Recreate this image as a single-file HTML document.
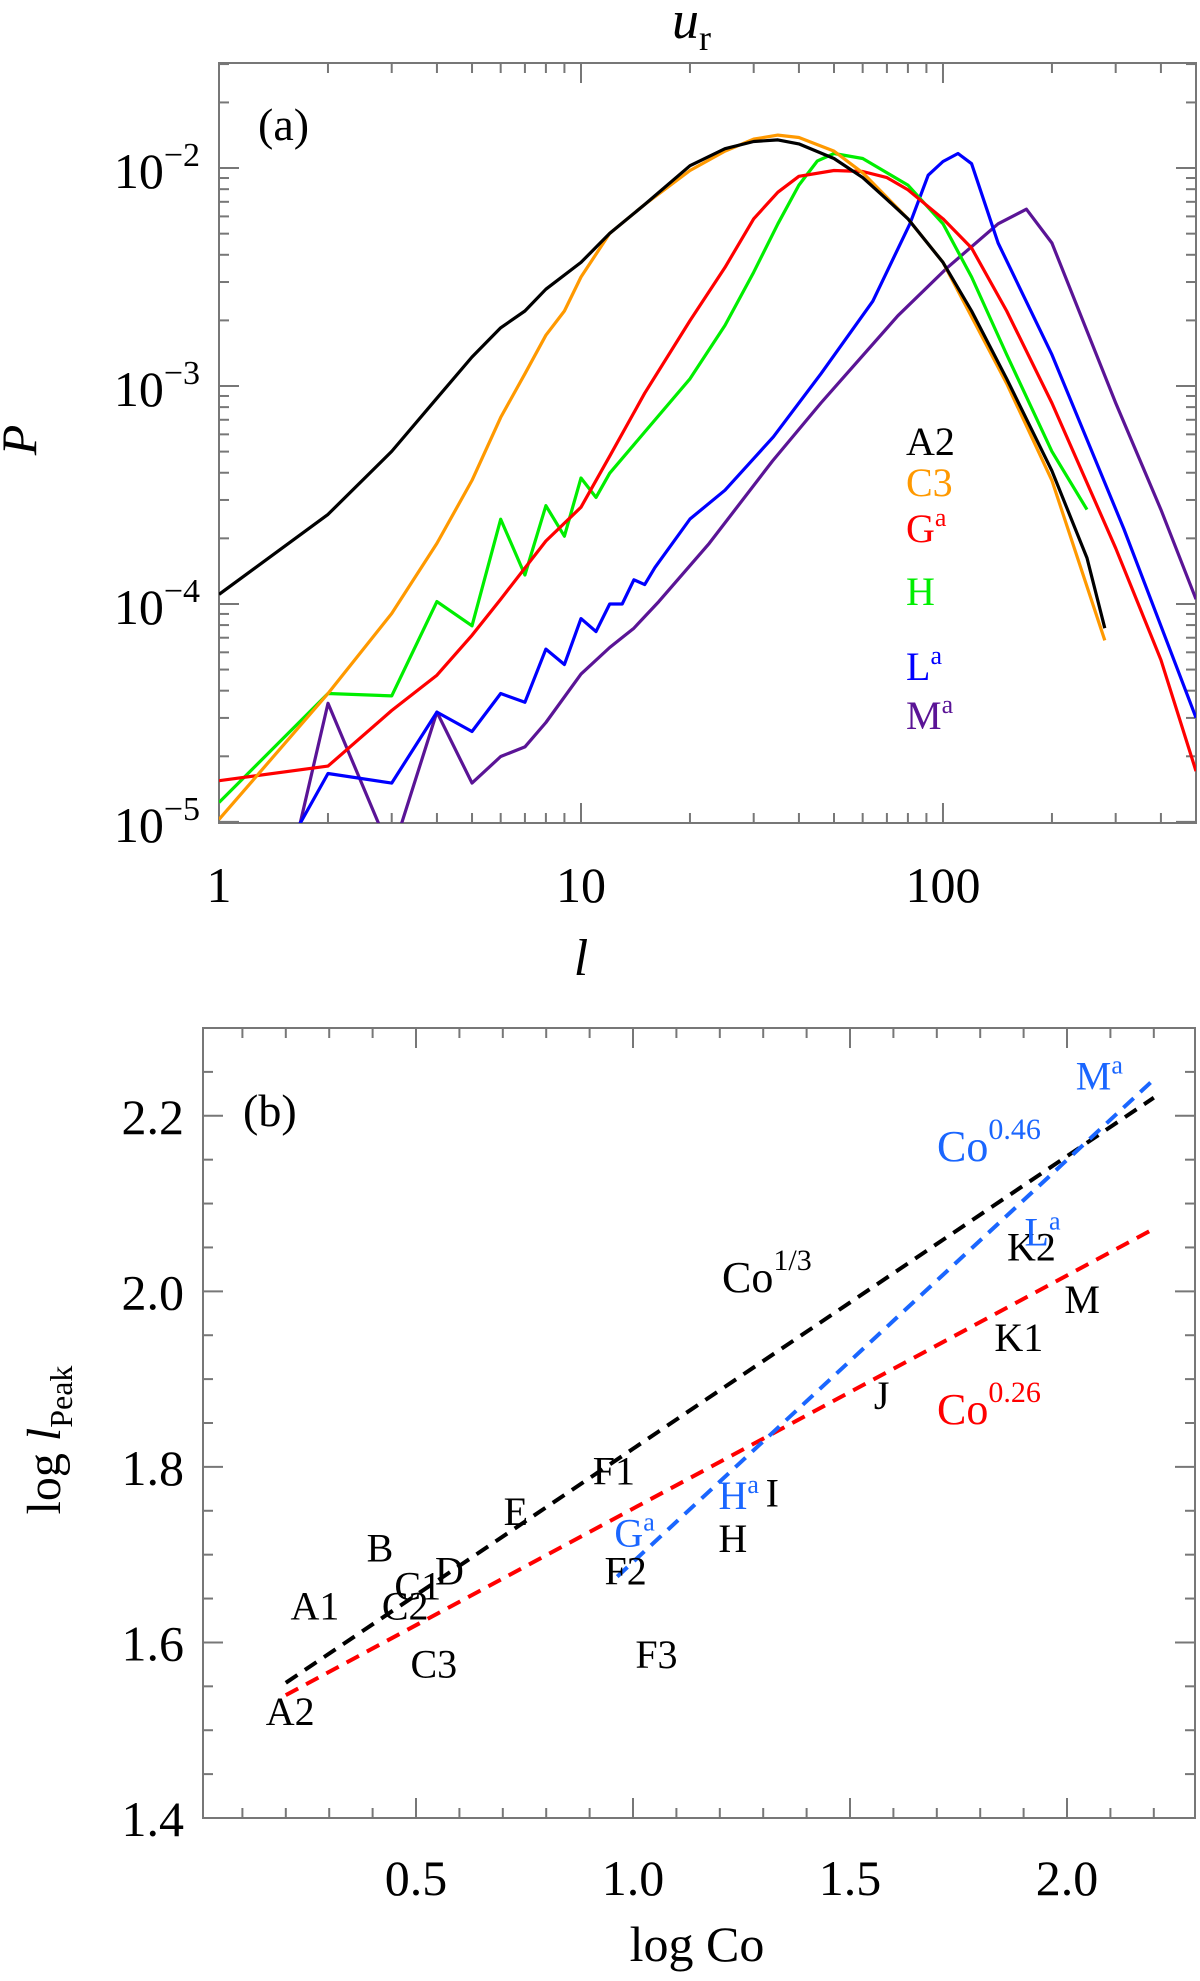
<!DOCTYPE html>
<html><head><meta charset="utf-8">
<style>
html,body{margin:0;padding:0;background:#fff;}
svg{display:block;font-family:"Liberation Serif","DejaVu Serif",serif;}
</style></head>
<body>
<svg id="fig" width="1200" height="1981" viewBox="0 0 1200 1981" xmlns="http://www.w3.org/2000/svg">
<defs>
<clipPath id="clipA"><rect x="219" y="63" width="977" height="760"/></clipPath>
<clipPath id="clipB"><rect x="203" y="1028" width="992" height="790"/></clipPath>
</defs>
<g id="panelA"></g>
<g id="panelB"></g>
</svg>
<script>
// ---------- Panel (a) data: log10 P vs multipole l ----------
const seriesNames = ["A2","C3","Ga","H","La","Ma"];
const seriesColors = ["#000000","#ff9900","#ff0000","#00ee00","#0000ff","#5a1496"];
const lA2 = [1,2,3,4,5,6,7,8,10,12,15,20,25,30,35,40,50,60,70,80,100,120,150,200,250,280];
const pA2 = [-3.956,-3.589,-3.30,-3.056,-2.867,-2.733,-2.656,-2.556,-2.433,-2.30,-2.167,-1.989,-1.911,-1.878,-1.871,-1.889,-1.956,-2.044,-2.144,-2.233,-2.433,-2.656,-2.967,-3.389,-3.789,-4.111];
const lC3 = [1,2,3,4,5,6,7,8,9,10,12,15,20,25,30,35,40,50,60,80,100,150,200,280];
const pC3 = [-4.989,-4.411,-4.044,-3.722,-3.433,-3.144,-2.944,-2.767,-2.656,-2.50,-2.30,-2.167,-2.011,-1.922,-1.867,-1.849,-1.86,-1.922,-2.022,-2.233,-2.433,-2.989,-3.433,-4.167];
const lH = [1,2,3,4,5,6,7,8,9,10,11,12,15,20,25,30,35,40,45,50,60,70,80,100,120,150,200,250];
const pH = [-4.911,-4.411,-4.422,-3.989,-4.10,-3.611,-3.867,-3.549,-3.689,-3.422,-3.511,-3.40,-3.211,-2.967,-2.722,-2.478,-2.256,-2.078,-1.967,-1.933,-1.956,-2.022,-2.078,-2.256,-2.50,-2.856,-3.30,-3.567];
const lGa = [1,2,3,4,5,6,8,10,12,15,20,25,30,35,40,50,60,70,80,100,120,150,200,300,400,500];
const pGa = [-4.811,-4.744,-4.489,-4.327,-4.144,-3.978,-3.711,-3.556,-3.322,-3.033,-2.70,-2.456,-2.233,-2.111,-2.038,-2.011,-2.016,-2.044,-2.10,-2.233,-2.367,-2.656,-3.078,-3.744,-4.256,-4.767];
const lLa = [1.5,2,3,4,5,6,7,8,9,10,11,12,13,14,15,16,20,25,30,34,46,64,81,91,100,110,120,142,200,316,500];
const pLa = [-5.15,-4.778,-4.822,-4.496,-4.585,-4.411,-4.451,-4.207,-4.278,-4.067,-4.127,-4.0,-4.0,-3.889,-3.911,-3.833,-3.61,-3.478,-3.333,-3.233,-2.944,-2.611,-2.256,-2.033,-1.97,-1.933,-1.98,-2.344,-2.856,-3.656,-4.522];
const lMa = [1.6,2,3,4,5,6,7,8,10,12,14,16.4,22.6,33.8,46,75,103,142,170,200,300,400,500];
const pMa = [-5.15,-4.456,-5.15,-4.496,-4.822,-4.70,-4.656,-4.544,-4.322,-4.20,-4.111,-3.989,-3.722,-3.344,-3.078,-2.678,-2.456,-2.256,-2.189,-2.344,-3.078,-3.567,-3.978];
const xTicksA = [1,10,100];
const xTickLabelsA = ["1","10","100"];
const yTicksA = [-2,-3,-4,-5];

// ---------- Panel (b) data ----------
const ptLabels = ["A2","A1","B","C1","C2","D","C3","E","F1","F2","F3","H","I","J","K1","K2","M"];
const ptX = [0.210,0.267,0.417,0.504,0.475,0.577,0.541,0.730,0.956,0.983,1.054,1.230,1.321,1.573,1.889,1.918,2.035];
const ptY = [1.522,1.642,1.708,1.665,1.642,1.682,1.576,1.750,1.796,1.682,1.587,1.719,1.771,1.882,1.948,2.051,1.991];
const bluePtLabels = ["G","H","L","M"];
const bluePtX = [1.022,1.262,1.962,2.093];
const bluePtY = [1.725,1.768,2.068,2.246];
const fitNames = ["co-one-third","co-0.26","co-0.46"];
const fitSlopes = [0.3333,0.2656,0.458];
const fitY0 = [1.554,1.540,1.675];
const fitX0 = [0.20,0.20,0.9636];
const fitX1 = [2.20,2.20,2.198];
const fitColors = ["#000000","#ff0000","#1a66ff"];
const xTicksB = [0.5,1.0,1.5,2.0];
const yTicksB = [1.4,1.6,1.8,2.0,2.2];

const NS = "http://www.w3.org/2000/svg";
function mk(tag, attrs, parent){ const e=document.createElementNS(NS,tag); for(const k in attrs) e.setAttribute(k,attrs[k]); parent.appendChild(e); return e; }

// ===== Panel A =====
const A = document.getElementById('panelA');
const aL=219,aR=1196,aT=63,aB=823;
const aXmax=Math.log10(500), aYmin=-5.005, aYmax=-1.518;
const ax = l => aL + Math.log10(l)/aXmax*(aR-aL);
const ay = lp => aB - (lp-aYmin)/(aYmax-aYmin)*(aB-aT);

const framea = mk('rect',{x:aL,y:aT,width:aR-aL,height:aB-aT,fill:'none',stroke:'#777','stroke-width':2},A);


const tga = mk('g',{stroke:'#777','stroke-width':2},A);


for(let d=0; d<3; d++){ for(let m=1;m<10;m++){ const v=m*Math.pow(10,d); if(v>500) break; const X=ax(v); const len=(m===1)?20:10;
  mk('line',{x1:X,y1:aB,x2:X,y2:aB-len},tga); mk('line',{x1:X,y1:aT,x2:X,y2:aT+len},tga); } }
for(let d=-5; d<=-2; d++){ for(let m=1;m<10;m++){ const v=d+Math.log10(m); if(v>aYmax) break; if(v<aYmin) continue; const Y=ay(v); const len=(m===1)?20:10;
  mk('line',{x1:aL,y1:Y,x2:aL+len,y2:Y},tga); mk('line',{x1:aR,y1:Y,x2:aR-len,y2:Y},tga); } }
xTicksA.forEach((v,i)=>{ const t=mk('text',{x:ax(v),y:902,'font-size':50,'text-anchor':'middle',fill:'#000'},A); t.textContent=xTickLabelsA[i];
    });
yTicksA.forEach(v=>{ const t=mk('text',{x:200,y:ay(v)+20,'font-size':50,'text-anchor':'end',fill:'#000'},A);
  t.innerHTML='10<tspan dy="-22" font-size="34">\u2212'+(-v)+'</tspan>';
    });

const curvesG = mk('g',{'clip-path':'url(#clipA)',fill:'none','stroke-width':3.2,'stroke-linejoin':'round'},A);


const allL=[lA2,lC3,lGa,lH,lLa,lMa], allP=[pA2,pC3,pGa,pH,pLa,pMa];
const drawOrder=[5,4,3,2,1,0];
drawOrder.forEach(i=>{
  const d = allL[i].map((l,j)=>(j?'L':'M')+ax(l).toFixed(1)+','+ay(allP[i][j]).toFixed(1)).join(' ');
  const p = mk('path',{d:d,stroke:seriesColors[i]},curvesG);
  
  
});
const legY=[441,482,528,591,666,715];
const legTxt=['A2','C3','G<tspan dy="-16" font-size="26">a</tspan>','H','L<tspan dy="-16" font-size="26">a</tspan>','M<tspan dy="-16" font-size="26">a</tspan>'];
legY.forEach((y,i)=>{ const t=mk('text',{x:906,y:y+14,'font-size':40,fill:seriesColors[i]},A); t.innerHTML=legTxt[i];
    });
const la=mk('text',{x:258,y:140,'font-size':46},A); la.textContent='(a)';
 
const tt=mk('text',{x:672,y:38,'font-size':54,'font-style':'italic'},A); tt.innerHTML='u<tspan dy="12" font-size="36" font-style="normal">r</tspan>';
 
const yla=mk('text',{x:0,y:0,'font-size':50,'font-style':'italic','text-anchor':'middle',transform:'translate(36,440) rotate(-90)'},A); yla.textContent='P';
 
const xla=mk('text',{x:581,y:975,'font-size':52,'font-style':'italic','text-anchor':'middle'},A); xla.textContent='l';
 

// ===== Panel B =====
const B = document.getElementById('panelB');
const bL=203,bR=1195,bT=1028,bB=1818;
const bXmin=0.0092, bXmax=bXmin+(bR-bL)/434, bYmin=1.4, bYmax=2.3;
const bx = v => bL + (v-bXmin)/(bXmax-bXmin)*(bR-bL);
const by = v => bB - (v-bYmin)/(bYmax-bYmin)*(bB-bT);
const frameb = mk('rect',{x:bL,y:bT,width:bR-bL,height:bB-bT,fill:'none',stroke:'#777','stroke-width':2},B);


const tgb = mk('g',{stroke:'#777','stroke-width':2},B);


for(let k=1;k<=22;k++){ const v=k/10; const X=bx(v); const len=(k%5===0)?20:10;
  mk('line',{x1:X,y1:bB,x2:X,y2:bB-len},tgb); mk('line',{x1:X,y1:bT,x2:X,y2:bT+len},tgb); }
for(let k=28;k<=46;k++){ const v=k/20; const Y=by(v); const len=(k%4===0)?20:10;
  mk('line',{x1:bL,y1:Y,x2:bL+len,y2:Y},tgb); mk('line',{x1:bR,y1:Y,x2:bR-len,y2:Y},tgb); }
xTicksB.forEach(v=>{ const t=mk('text',{x:bx(v),y:1895,'font-size':50,'text-anchor':'middle'},B); t.textContent=v.toFixed(1);
    });
yTicksB.forEach(v=>{ const t=mk('text',{x:184,y:by(v)+18,'font-size':50,'text-anchor':'end'},B); t.textContent=v.toFixed(1);
    });

const fitG = mk('g',{'clip-path':'url(#clipB)',fill:'none','stroke-width':4,'stroke-dasharray':'14 9'},B);


fitNames.forEach((n,i)=>{
  const y0=fitY0[i], y1=fitY0[i]+fitSlopes[i]*(fitX1[i]-fitX0[i]);
  const ln=mk('line',{x1:bx(fitX0[i]),y1:by(y0),x2:bx(fitX1[i]),y2:by(y1),stroke:fitColors[i]},fitG);
  
  
});
ptLabels.forEach((s,i)=>{ const t=mk('text',{x:bx(ptX[i]),y:by(ptY[i])+14,'font-size':40,'text-anchor':'middle',fill:'#000'},B); t.textContent=s;
    });
bluePtLabels.forEach((s,i)=>{ const t=mk('text',{x:bx(bluePtX[i])-8,y:by(bluePtY[i])+14,'font-size':40,'text-anchor':'middle',fill:'#1a66ff'},B);
  t.innerHTML=s+'<tspan dy="-16" font-size="26">a</tspan>';
    });
const c1=mk('text',{x:722,y:1292,'font-size':44},B); c1.innerHTML='Co<tspan dy="-22" font-size="30">1/3</tspan>';
 
const c2=mk('text',{x:937,y:1161,'font-size':44,fill:'#1a66ff'},B); c2.innerHTML='Co<tspan dy="-22" font-size="30">0.46</tspan>';
 
const c3=mk('text',{x:937,y:1424,'font-size':44,fill:'#ff0000'},B); c3.innerHTML='Co<tspan dy="-22" font-size="30">0.26</tspan>';
 
const lb=mk('text',{x:243,y:1126,'font-size':46},B); lb.textContent='(b)';
 
const ylb=mk('text',{x:0,y:0,'font-size':48,'text-anchor':'middle',transform:'translate(60,1440) rotate(-90)'},B);
ylb.innerHTML='log <tspan font-style="italic">l</tspan><tspan dy="12" font-size="32">Peak</tspan>';
 
const xlb=mk('text',{x:697,y:1961,'font-size':50,'text-anchor':'middle'},B); xlb.textContent='log Co';
 
</script>
</body></html>
